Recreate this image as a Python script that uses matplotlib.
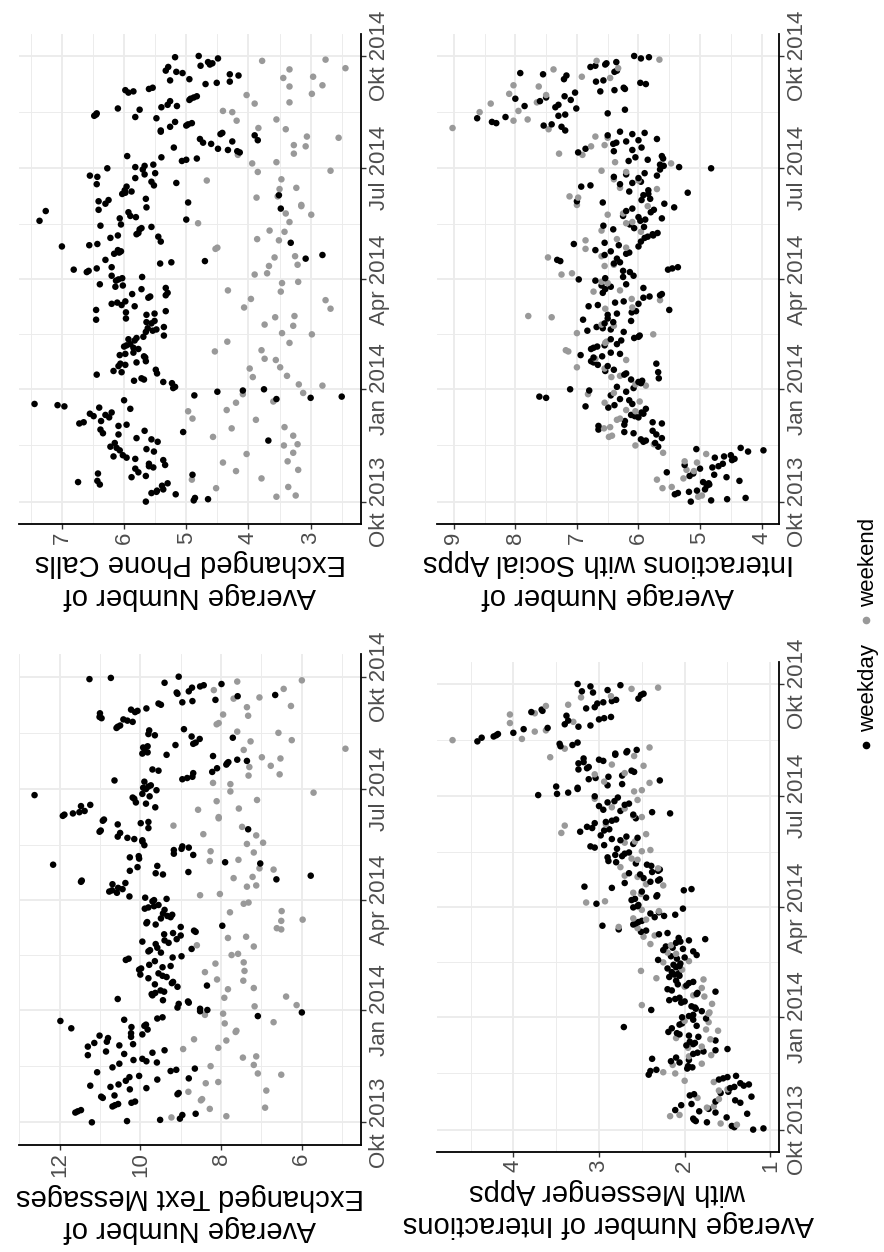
import numpy as np
import pandas as pd
import matplotlib
matplotlib.use("Agg")
import matplotlib.pyplot as plt
import matplotlib.dates as mdates
from matplotlib.ticker import MultipleLocator, FixedLocator, FixedFormatter, FuncFormatter
from matplotlib.lines import Line2D

# ---------------- data ----------------
start_date = "2013-10-01"
end_date = "2014-10-01"
date_ticks = ["2013-10-01", "2014-01-01", "2014-04-01", "2014-07-01", "2014-10-01"]
date_labels = ["Okt 2013", "Jan 2014", "Apr 2014", "Jul 2014", "Okt 2014"]
legend_labels = ["weekday", "weekend"]

phone_weekday = [
    5.65, 4.88, 4.65, 4.86, 5.17, 5.56, 5.48, 5.47, 5.37, 5.39, 6.39, 5.30, 6.74, 6.43, 5.88, 5.65, 4.90, 6.42, 5.77, 5.82, 5.53, 5.60, 5.34,
    5.60, 5.37, 5.82, 5.96, 6.17, 6.02, 5.52, 6.07, 5.64, 6.12, 6.22, 6.15, 5.46, 3.68, 5.56, 5.80, 6.09, 6.34, 5.05, 5.67, 6.38,
    6.09, 5.96, 6.72, 6.65, 6.37, 6.24, 6.49, 6.30, 6.55, 6.20, 5.90, 6.40, 6.96, 7.07, 7.44, 6.00, 3.55, 3.00, 2.50, 4.87, 4.50, 4.09,
    3.75, 5.21, 5.18, 5.23, 5.37, 5.84, 5.68, 5.72, 6.44, 5.47, 6.04, 6.17, 5.49, 6.09, 5.98, 6.06, 5.80, 5.65, 5.66, 5.68, 6.07, 5.98, 5.85,
    5.77, 5.85, 6.00, 5.96, 5.90, 5.83, 5.93, 5.80, 5.69, 5.36, 5.65, 5.54, 5.48, 5.62, 5.36, 5.56, 5.64, 5.51, 6.45, 5.97,
    5.64, 5.51, 5.97, 5.33, 6.45, 5.83, 6.04, 6.20, 6.11, 5.98, 5.61, 5.58, 5.33, 5.87, 5.30, 5.72, 5.33, 6.14, 6.02, 6.39, 6.13,
    6.09, 6.03, 5.71, 6.20, 6.60, 6.57, 6.81, 6.44, 6.20, 5.42, 5.24, 4.70, 6.30, 3.08, 2.81, 6.16, 6.08, 6.05, 6.10, 7.00, 6.56, 6.43,
    3.32, 5.41, 6.22, 5.45, 6.10, 5.80, 5.77, 5.75, 5.72, 5.56, 6.38, 6.05, 7.36, 5.00, 6.07, 5.81, 5.90, 5.93, 7.26, 6.41, 3.48, 5.64,
    6.30, 4.97, 6.41, 6.25, 5.65, 3.51, 6.03, 5.98, 5.88, 5.99, 5.96, 5.52, 6.44, 5.16, 5.56, 5.82, 6.43, 6.55, 5.67, 5.50, 5.70,
    6.27, 5.82, 5.67, 5.53, 5.07, 5.00, 4.83, 5.40, 5.95, 4.14, 4.18, 4.33, 4.49, 5.20, 4.60, 4.73, 4.26, 3.85, 4.78, 3.90, 4.45, 4.42, 5.41,
    5.41, 5.26, 5.00, 4.97, 4.91, 5.18, 5.48, 5.82, 6.48, 6.45, 6.44, 5.75, 6.10, 5.40, 5.15, 5.30, 5.26, 4.95, 4.93, 4.88, 4.83,
    5.93, 5.85, 5.98, 5.60, 5.54, 4.69, 4.51, 4.30, 5.26, 4.95, 4.16, 4.30, 5.06, 5.16, 5.33, 5.29, 4.77, 4.62, 4.58, 4.65, 4.49, 5.18,
    4.80,
]
phone_weekend = [
    3.55, 3.24, 4.52, 3.36, 4.91, 3.79, 4.20, 3.20,
    4.41, 3.37, 4.03, 3.28, 3.43, 3.21, 4.57, 3.28, 4.27,
    3.42, 3.88, 4.90, 4.97, 4.35, 4.20, 3.60, 4.09, 3.12,
    2.81, 3.19, 3.93, 3.38, 3.98, 3.49, 3.56, 3.74,
    4.54, 3.79, 3.34, 4.34, 2.98, 3.46, 3.28, 3.74,
    3.57, 3.26, 2.68, 4.07, 2.76, 3.96, 3.48, 4.33, 3.46, 3.20,
    3.90, 3.70, 3.67, 3.21, 3.58, 3.25, 4.53, 4.50,
    3.51, 3.86, 3.42, 3.66, 4.81, 3.34, 2.99, 3.40, 3.15,
    3.15, 3.87, 3.53, 3.50, 3.23, 4.67, 3.47, 3.85, 2.68,
    3.94, 3.55, 4.17, 3.27, 3.08, 3.27, 2.55, 3.06,
    3.40, 3.84, 4.19, 3.55, 4.26, 4.41, 3.90, 3.34, 4.03, 2.98,
    3.34, 2.81, 3.44, 2.96, 3.34, 2.44, 3.78, 2.76,
]

social_weekday = [
    5.15, 4.82, 4.56, 4.26, 5.41, 5.36, 5.18, 5.05, 4.92, 4.89, 4.85, 4.86, 4.95, 4.36, 4.57, 5.17, 4.77, 5.11, 5.54, 5.00, 4.80, 4.70, 5.25,
    4.63, 4.48, 4.44, 4.76, 4.61, 4.50, 4.22, 3.97, 5.06, 4.34, 5.68, 5.73, 5.92, 5.88, 5.96, 5.62, 5.71, 6.08, 6.23, 5.77, 6.65,
    6.65, 6.23, 5.62, 5.77, 6.22, 6.00, 6.06, 6.12, 5.92, 5.95, 5.88, 6.49, 6.86, 6.39, 6.10, 6.15, 6.30, 7.50, 7.61, 6.45, 6.20, 6.80,
    7.11, 6.08, 6.35, 5.96, 6.00, 5.94, 6.12, 5.67, 6.23, 6.20, 5.68, 6.54, 6.40, 6.50, 6.66, 5.71, 6.73, 6.77, 6.73, 6.59, 6.94, 6.30, 6.45,
    6.77, 6.73, 6.67, 6.55, 6.35, 6.28, 6.45, 6.07, 6.00, 5.98, 6.24, 6.83, 6.45, 6.58, 6.68, 6.55, 6.41, 6.12, 6.90, 6.50,
    6.50, 6.35, 6.11, 6.04, 5.50, 6.81, 6.66, 6.00, 6.38, 6.24, 5.92, 5.82, 5.65, 5.62, 6.58, 6.54, 5.92, 6.45, 6.60, 6.20, 6.70,
    6.97, 6.54, 6.25, 6.08, 6.14, 6.25, 5.52, 5.45, 5.36, 6.40, 6.30, 7.27, 7.32, 6.35, 6.55, 6.20, 6.15, 6.45, 6.70, 6.00, 6.32, 7.05,
    6.55, 5.96, 5.90, 5.85, 5.76, 5.77, 5.69, 6.41, 6.07, 5.91, 6.57, 6.14, 5.97, 5.89, 5.62, 6.00, 6.25, 5.80, 6.20, 5.75, 6.10, 5.42,
    5.58, 6.58, 7.00, 5.95, 5.81, 5.92, 5.84, 5.20, 6.15, 5.84, 6.93, 6.78, 6.30, 6.10, 5.96, 6.00, 6.40, 5.70, 6.20, 5.90, 5.65,
    4.82, 5.34, 5.59, 5.65, 6.16, 5.85, 5.60, 6.05, 5.62, 6.98, 6.40, 6.10, 6.86, 5.95, 6.41, 6.36, 6.20, 6.00, 5.70, 6.50, 6.10, 5.90, 6.30,
    7.19, 7.25, 7.54, 7.41, 8.31, 8.38, 8.62, 8.16, 7.30, 7.19, 6.50, 6.22, 7.01, 7.35, 7.85, 7.30, 7.60, 7.10, 8.00, 7.50, 7.20,
    7.03, 6.62, 6.39, 6.22, 6.24, 5.88, 5.97, 6.69, 6.57, 7.21, 7.17, 7.55, 7.92, 6.39, 6.35, 6.78, 6.70, 6.54, 6.52, 6.36, 5.96, 5.83,
    6.07,
]
social_weekend = [
    5.03, 4.97, 5.61, 5.46, 5.70, 5.27, 5.10, 5.22,
    5.05, 5.25, 4.90, 5.60, 6.05, 5.75, 6.48, 6.43, 6.56,
    6.46, 6.35, 6.30, 6.05, 6.20, 6.55, 5.98, 6.82, 6.40,
    5.88, 6.05, 6.44, 6.30, 6.55, 7.00, 6.20, 6.70,
    7.14, 7.18, 6.54, 6.52, 5.76, 7.00, 6.40, 6.60,
    7.41, 7.79, 6.54, 6.10, 5.65, 6.11, 6.73, 6.30, 6.50, 6.60,
    7.25, 7.08, 6.55, 6.40, 7.47, 6.60, 6.86, 6.20,
    6.86, 6.35, 5.96, 6.60, 6.20, 6.10, 6.50, 6.25, 5.85,
    7.00, 6.98, 7.12, 5.70, 6.30, 6.00, 6.40, 6.20, 6.60,
    5.47, 6.38, 6.91, 7.29, 6.77, 6.55, 6.50, 6.70,
    7.46, 9.02, 8.03, 7.80, 8.58, 7.95, 8.40, 7.65, 7.50, 8.10,
    7.62, 8.03, 6.46, 6.92, 7.38, 6.33, 6.68, 5.66,
]

text_weekday = [
    11.20, 10.33, 9.51, 9.02, 8.96, 8.63, 11.61, 11.55, 11.47, 10.69, 10.63, 10.55, 10.22, 10.13, 10.93, 10.97, 10.64, 9.08, 9.05, 10.26, 9.85, 10.74, 11.24,
    10.54, 10.36, 9.58, 8.80, 10.27, 10.03, 11.07, 9.25, 9.11, 8.65, 10.69, 10.52, 9.59, 9.85, 10.17, 9.95, 11.30, 10.40, 9.70, 10.85, 9.40,
    11.30, 10.52, 10.18, 11.14, 10.83, 10.80, 10.23, 11.01, 9.95, 10.23, 9.82, 11.71, 10.22, 9.90, 9.86, 11.98, 10.40, 9.58, 9.45, 7.09, 6.00, 8.52,
    8.34, 8.52, 9.08, 9.05, 8.80, 8.82, 9.44, 10.56, 9.70, 9.72, 9.63, 9.41, 9.50, 9.08, 8.35, 9.64, 9.22, 9.19, 9.80, 9.35, 9.45, 10.00, 9.55,
    10.03, 9.98, 9.45, 9.25, 9.78, 9.64, 10.36, 10.29, 9.20, 8.98, 9.49, 9.80, 9.76, 8.73, 9.58, 9.62, 9.30, 9.95, 9.40, 9.10,
    9.00, 9.41, 9.19, 8.63, 8.67, 9.00, 7.97, 9.62, 9.85, 9.83, 9.49, 9.25, 9.33, 9.21, 9.44, 9.40, 9.89, 9.80, 9.66, 9.55, 9.70,
    9.66, 9.35, 9.88, 10.27, 10.58, 10.77, 10.70, 10.44, 10.55, 10.69, 10.37, 11.47, 11.45, 6.63, 5.78, 9.44, 9.62, 8.81, 10.26, 10.07, 9.58, 12.16,
    7.03, 7.90, 10.03, 10.26, 10.04, 8.69, 9.17, 9.17, 8.98, 8.80, 8.96, 9.90, 9.95, 9.95, 10.15, 10.32, 10.56, 10.50, 11.01, 10.98, 7.33, 9.80,
    10.56, 9.99, 9.80, 10.93, 10.90, 11.92, 11.88, 11.67, 11.51, 11.38, 9.63, 11.47, 11.24, 9.86, 10.11, 10.15, 10.19, 9.77, 12.62, 9.95, 9.60,
    9.86, 9.93, 9.80, 9.74, 9.90, 10.64, 8.96, 8.84, 8.71, 8.69, 8.22, 9.55, 9.70, 8.10, 7.87, 7.85, 7.82, 7.36, 7.60, 8.20, 9.35, 9.95, 9.82,
    9.89, 9.93, 9.82, 9.13, 8.69, 8.63, 8.53, 7.71, 8.73, 9.64, 9.80, 9.78, 8.92, 10.59, 10.56, 10.50, 10.19, 10.32, 10.42, 10.96, 11.01,
    11.00, 10.13, 10.07, 10.23, 9.85, 9.49, 9.55, 8.96, 8.71, 8.14, 7.59, 6.66, 9.08, 9.10, 8.80, 8.72, 8.52, 8.43, 7.99, 9.40, 11.26, 10.73,
    9.05,
]
text_weekend = [
    9.23, 7.87, 8.28, 6.91, 8.50, 8.47, 8.81, 6.88,
    8.38, 8.07, 6.51, 7.09, 8.26, 7.19, 7.46, 7.13, 8.94,
    8.07, 7.87, 8.67, 7.64, 7.62, 7.91, 6.70, 8.40, 7.95,
    7.17, 6.13, 7.92, 6.39, 7.83, 7.19, 7.45, 8.10,
    8.40, 7.42, 8.14, 7.44, 7.74, 7.58, 7.19, 8.60,
    7.83, 7.38, 6.51, 6.62, 6.51, 5.98, 7.78, 6.50, 7.44, 7.32,
    8.52, 8.03, 7.36, 7.13, 7.69, 7.22, 6.70, 7.05,
    8.28, 7.57, 7.19, 8.26, 7.36, 6.96, 7.13, 8.44, 7.48,
    9.18, 8.06, 8.06, 8.57, 7.56, 8.11, 7.11, 5.71, 7.77,
    7.77, 8.20, 7.32, 6.55, 7.30, 6.77, 6.53, 6.99,
    7.44, 4.92, 7.27, 6.25, 6.58, 7.60, 8.11, 8.06, 7.33, 7.95,
    7.36, 6.27, 7.69, 7.05, 8.18, 6.45, 7.60, 6.00,
]

messenger_weekday = [
    1.20, 1.08, 1.42, 1.45, 1.74, 1.87, 1.89, 1.90, 1.51, 1.27, 1.64, 1.83, 2.11, 1.72, 2.04, 1.92, 1.35, 1.64, 1.41, 1.22, 1.94, 1.89, 1.58,
    1.49, 1.47, 1.42, 1.31, 1.25, 1.35, 1.60, 1.55, 1.50, 1.40, 2.42, 2.40, 2.33, 1.97, 1.91, 1.96, 2.06, 2.16, 1.95, 2.38, 2.10,
    1.90, 1.85, 1.78, 1.64, 1.50, 1.98, 1.90, 1.88, 1.94, 1.64, 1.84, 1.95, 2.06, 2.09, 2.19, 2.15, 2.71, 1.86, 2.06, 2.03, 1.90, 1.75,
    2.03, 1.95, 1.90, 1.80, 2.39, 1.87, 1.88, 1.92, 2.04, 2.00, 2.18, 2.11, 2.06, 1.86, 1.85, 1.64, 2.15, 2.20, 1.98, 2.08, 1.95, 1.90, 2.10,
    2.18, 2.06, 2.12, 2.07, 2.15, 2.20, 2.10, 2.06, 2.13, 2.05, 2.31, 2.09, 2.00, 2.16, 1.86, 1.90, 2.25, 2.02, 2.14, 2.22,
    2.10, 2.05, 1.95, 1.76, 2.07, 2.30, 2.20, 2.51, 2.45, 2.77, 2.96, 2.60, 2.57, 2.54, 2.50, 2.35, 2.24, 2.11, 2.40, 2.30, 2.02,
    2.60, 2.55, 2.54, 3.03, 2.62, 2.58, 2.45, 2.33, 2.32, 2.50, 2.01, 1.92, 2.85, 3.17, 2.70, 2.40, 2.31, 2.29, 2.48, 2.52, 2.65, 2.38,
    2.31, 2.29, 2.39, 2.44, 2.57, 2.80, 2.89, 2.90, 2.73, 2.81, 2.70, 2.65, 2.79, 3.05, 3.10, 2.94, 2.60, 2.75, 2.85, 2.55, 2.68, 2.98,
    3.22, 2.94, 2.88, 3.08, 3.14, 3.05, 2.92, 2.85, 2.80, 2.57, 2.60, 2.17, 2.38, 2.75, 2.95, 3.00, 2.70, 2.65, 2.90, 2.82, 2.78,
    3.05, 3.71, 3.49, 3.36, 3.25, 3.25, 3.50, 2.90, 2.73, 2.29, 3.12, 3.04, 2.89, 2.73, 2.59, 2.62, 3.24, 3.14, 3.12, 3.24, 3.18, 2.95, 3.00,
    3.18, 2.81, 2.81, 2.68, 2.67, 2.56, 3.45, 3.31, 3.46, 3.25, 4.42, 4.37, 4.23, 4.20, 4.18, 4.00, 3.88, 3.60, 3.24, 3.10, 3.40,
    3.36, 3.00, 2.94, 2.86, 3.38, 3.79, 3.66, 3.67, 3.15, 3.05, 3.02, 2.95, 2.85, 2.80, 2.54, 2.51, 2.48, 3.07, 3.20, 2.90, 3.10, 2.75,
    3.25,
]
messenger_weekend = [
    1.39, 1.58, 2.17, 2.06, 1.74, 1.66, 1.60, 1.85,
    1.60, 1.50, 1.66, 2.00, 2.11, 2.25, 2.14, 1.80, 1.95,
    1.69, 1.96, 1.80, 1.70, 2.10, 1.61, 1.75, 1.72, 2.00,
    1.72, 1.71, 2.50, 1.68, 1.77, 1.90, 1.80, 2.00,
    1.78, 2.33, 2.51, 2.03, 2.25, 1.95, 2.10, 2.20,
    2.16, 2.40, 2.48, 2.35, 2.55, 2.77, 2.45, 2.60, 2.30, 2.50,
    3.15, 2.93, 2.51, 2.60, 2.25, 2.45, 2.55, 2.70,
    2.31, 2.75, 2.55, 2.62, 2.50, 2.40, 2.70, 2.58, 2.45,
    3.44, 3.40, 2.92, 2.50, 2.60, 2.70, 2.85, 2.55, 3.05,
    2.59, 2.50, 2.41, 2.94, 3.05, 2.70, 2.48, 2.85,
    3.57, 2.59, 3.40, 2.41, 4.71, 3.90, 3.75, 3.62, 4.04, 3.30,
    4.04, 3.75, 3.62, 3.36, 3.21, 2.86, 2.62, 2.31,
]

phone_title = "Average Number of\nExchanged Phone Calls"
social_title = "Average Number of\nInteractions with Social Apps"
text_title = "Average Number of\nExchanged Text Messages"
messenger_title = "Average Number of Interactions\nwith Messenger Apps"

# ---------------- style ----------------
W, H = 884, 1252
FAMILY = ["Liberation Sans", "DejaVu Sans"]
tick_size = 16
title_size = 21
legend_size = 16
BLACK = "#000000"
GREY = "#999999"
TICKCOL = "#4D4D4D"
GRIDCOL = "#EBEBEB"

all_dates = pd.date_range(start_date, end_date, freq="D")
is_weekend = np.asarray(all_dates.dayofweek >= 5)
ynum = mdates.date2num(all_dates.values)
tick_nums = mdates.date2num(pd.to_datetime(date_ticks).values)
minor_nums = (tick_nums[:-1] + tick_nums[1:]) / 2.0
span = ynum[-1] - ynum[0]
ylim = (ynum[0] - 0.05 * span, ynum[-1] + 0.05 * span)


def assemble(wd, we, name):
    assert len(wd) == int((~is_weekend).sum()), f"{name} weekday len {len(wd)}"
    assert len(we) == int(is_weekend.sum()), f"{name} weekend len {len(we)}"
    vals = np.empty(len(all_dates))
    vals[~is_weekend] = wd
    vals[is_weekend] = we
    return vals


panels = [
    dict(name="phone", wd=phone_weekday, we=phone_weekend, title=phone_title, major=1, minor=0.5,
         px=(19, 361, 33.7, 523.9)),
    dict(name="social", wd=social_weekday, we=social_weekend, title=social_title, major=1, minor=0.5,
         px=(437, 779, 33.7, 523.9)),
    dict(name="text", wd=text_weekday, we=text_weekend, title=text_title, major=2, minor=1,
         px=(19, 361, 654.4, 1144.6)),
    dict(name="messenger", wd=messenger_weekday, we=messenger_weekend, title=messenger_title, major=1, minor=0.5,
         px=(437, 779, 661.7, 1151.9)),
]

fig = plt.figure(figsize=(W / 100, H / 100), dpi=100)
fig.patch.set_facecolor("white")

for p in panels:
    x0, x1, y0, y1 = p["px"]
    ax = fig.add_axes([x0 / W, 1 - y1 / H, (x1 - x0) / W, (y1 - y0) / H])
    vals = assemble(p["wd"], p["we"], p["name"])
    colors = np.where(is_weekend, GREY, BLACK)
    ax.scatter(vals, ynum, c=colors, s=22, linewidths=0, zorder=3)

    vmin, vmax = vals.min(), vals.max()
    pad = 0.05 * (vmax - vmin)
    ax.set_xlim(vmax + pad, vmin - pad)
    ax.set_ylim(*ylim)

    ax.xaxis.set_major_locator(MultipleLocator(p["major"]))
    ax.xaxis.set_minor_locator(MultipleLocator(p["minor"]))
    ax.xaxis.set_major_formatter(FuncFormatter(lambda v, pos: f"{v:g}"))
    ax.yaxis.set_major_locator(FixedLocator(tick_nums))
    ax.yaxis.set_major_formatter(FixedFormatter(date_labels))
    ax.yaxis.set_minor_locator(FixedLocator(minor_nums))
    ax.yaxis.tick_right()

    ax.set_axisbelow(True)
    ax.grid(which="major", color=GRIDCOL, linewidth=1.3)
    ax.grid(which="minor", color=GRIDCOL, linewidth=0.65)

    for s in ["top", "left"]:
        ax.spines[s].set_visible(False)
    for s in ["right", "bottom"]:
        ax.spines[s].set_color("black")
        ax.spines[s].set_linewidth(1.3)

    ax.tick_params(which="major", direction="out", length=3.5, width=1.0, color="#333333", pad=2)
    ax.tick_params(which="minor", length=0)
    ax.tick_params(axis="x", labelrotation=90)
    ax.tick_params(axis="y", labelrotation=90, right=True, left=False, labelright=True, labelleft=False)

    for lab in ax.get_xticklabels():
        lab.set_family(FAMILY)
        lab.set_fontsize(tick_size)
        lab.set_color(TICKCOL)
        lab.set_ha("center")
        lab.set_va("top")
    for lab in ax.get_yticklabels():
        lab.set_family(FAMILY)
        lab.set_fontsize(tick_size)
        lab.set_color(TICKCOL)
        lab.set_ha("left")
        lab.set_va("center")

    ax.set_xlabel(p["title"], rotation=180, fontsize=title_size, family=FAMILY,
                  color="black", linespacing=1.2, ha="center", va="top", labelpad=4)

# legend (rotated, right side)
legend_items = [
    (legend_labels[0], BLACK, 745, 688),
    (legend_labels[1], GREY, 620, 562),
]
for label, col, dot_y, text_y in legend_items:
    fig.add_artist(Line2D([866 / W], [1 - dot_y / H], marker="o", color=col, markersize=4.5,
                          linestyle="none", transform=fig.transFigure))
    fig.text(869 / W, 1 - text_y / H, label, rotation=90, ha="center", va="center",
             fontsize=legend_size, family=FAMILY, color="black")

fig.savefig("out.png", dpi=100, facecolor="white")
